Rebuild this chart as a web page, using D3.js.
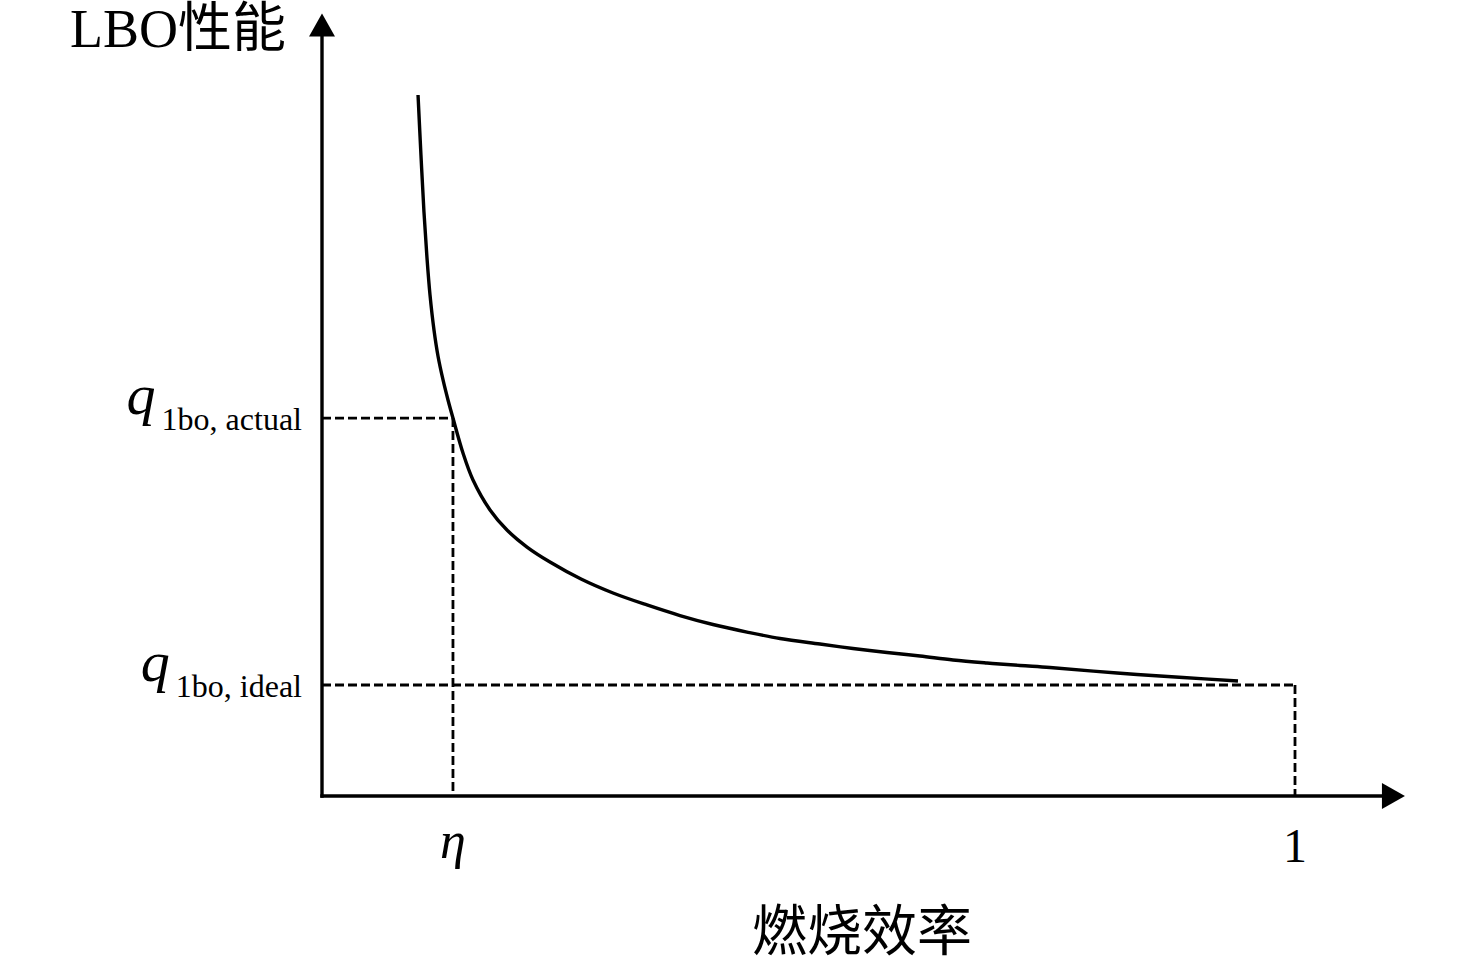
<!DOCTYPE html>
<html>
<head>
<meta charset="utf-8">
<script src="https://cdn.jsdelivr.net/npm/d3@7/dist/d3.min.js"></script>
<style>
  html, body { margin: 0; padding: 0; background: #ffffff; }
  svg { display: block; }
  text { font-family: "Liberation Serif", "Noto Sans CJK SC", serif; fill: #000; }
</style>
</head>
<body>
<svg id="chart" width="1476" height="965"></svg>
<script>
// ---- data ----
const curveX = [0.0987, 0.1017, 0.1048, 0.1079, 0.1110, 0.1151, 0.1192, 0.1244, 0.1295, 0.1346,
                0.1449, 0.1552, 0.1727, 0.1901, 0.2107, 0.2343, 0.2662, 0.2991, 0.3340, 0.3679,
                0.4018, 0.4368, 0.4707, 0.5118, 0.5457, 0.5807, 0.6146, 0.6485, 0.6835, 0.7174,
                0.7482, 0.8171, 0.8849, 0.9414];
const curveY = [6.315, 5.775, 5.261, 4.847, 4.514, 4.198, 3.964, 3.748, 3.568, 3.405,
                3.090, 2.847, 2.577, 2.396, 2.243, 2.108, 1.955, 1.829, 1.721, 1.626,
                1.545, 1.477, 1.419, 1.369, 1.329, 1.293, 1.261, 1.225, 1.198, 1.176,
                1.158, 1.108, 1.068, 1.036];
const etaValue = 0.1346;      // combustion efficiency η
const fullValue = 1;          // efficiency = 1
const qActual = 3.405;        // q_lbo, actual
const qIdeal = 1;             // q_lbo, ideal
const xAxisMax = 1.113;
const yAxisMax = 7.05;
const xTickLabels = ["η", "1"];
const yTickSubs = ["1bo, actual", "1bo, ideal"];
const yTickMain = "q";
const xTitle = "燃烧效率";
const yTitle = "LBO性能";

// ---- scales ----
const x = d3.scaleLinear().domain([0, 1]).range([322, 1295]);
const y = d3.scaleLinear().domain([0, 1]).range([796, 685]);

const svg = d3.select("#chart");
const g = svg.append("g");

// ---- dashed guide lines ----
const dash = "9,4";
const guides = [
  [[0, qActual], [etaValue, qActual]],
  [[etaValue, qActual], [etaValue, 0]],
  [[0, qIdeal], [fullValue, qIdeal]],
  [[fullValue, qIdeal], [fullValue, 0]]
];
g.selectAll("line.guide").data(guides).enter().append("line")
  .attr("class", "guide")
  .attr("x1", d => x(d[0][0])).attr("y1", d => y(d[0][1]))
  .attr("x2", d => x(d[1][0])).attr("y2", d => y(d[1][1]))
  .attr("stroke", "#000").attr("stroke-width", 2.8)
  .attr("stroke-dasharray", dash);

// ---- axes ----
const ax = g.append("g");
ax.append("line")
  .attr("x1", x(0) - 1.7).attr("y1", y(0)).attr("x2", x(xAxisMax) - 10).attr("y2", y(0))
  .attr("stroke", "#000").attr("stroke-width", 3.4);
ax.append("line")
  .attr("x1", x(0)).attr("y1", y(0) + 1.7).attr("x2", x(0)).attr("y2", y(yAxisMax) + 10)
  .attr("stroke", "#000").attr("stroke-width", 3.4);
// arrow heads
const xt = x(xAxisMax), yt = y(0);
ax.append("path")
  .attr("d", `M${xt},${yt} L${xt - 23},${yt - 13} L${xt - 23},${yt + 13} Z`)
  .attr("fill", "#000");
const xa = x(0), ya = y(yAxisMax);
ax.append("path")
  .attr("d", `M${xa},${ya} L${xa - 13},${ya + 23} L${xa + 13},${ya + 23} Z`)
  .attr("fill", "#000");

// ---- curve ----
const pts = curveX.map((v, i) => [v, curveY[i]]);
g.append("path")
  .datum(pts)
  .attr("fill", "none")
  .attr("stroke", "#000")
  .attr("stroke-width", 3.4)
  .attr("d", d3.line().x(d => x(d[0])).y(d => y(d[1])).curve(d3.curveCatmullRom.alpha(0.5)));

// ---- x tick labels ----
g.append("text")
  .attr("x", x(etaValue)).attr("y", y(0) + 62)
  .attr("text-anchor", "middle")
  .style("font-size", "52px").style("font-style", "italic")
  .text(xTickLabels[0]);
g.append("text")
  .attr("x", x(fullValue)).attr("y", y(0) + 66)
  .attr("text-anchor", "middle")
  .style("font-size", "48px")
  .text(xTickLabels[1]);

// ---- y tick labels ----
[qActual, qIdeal].forEach((v, i) => {
  const t = g.append("text")
    .attr("x", x(0) - 20)
    .attr("y", y(v) - 4)
    .attr("text-anchor", "end");
  t.append("tspan")
    .style("font-size", "58px").style("font-style", "italic")
    .text(yTickMain);
  t.append("tspan")
    .attr("dx", 6).attr("dy", 16)
    .style("font-size", "32px")
    .text(yTickSubs[i]);
});

// ---- axis titles ----
g.append("text")
  .attr("x", 70).attr("y", 47)
  .style("font-size", "54px")
  .text(yTitle);
g.append("text")
  .attr("x", 752).attr("y", 950)
  .style("font-size", "55px")
  .text(xTitle);
</script>
</body>
</html>
